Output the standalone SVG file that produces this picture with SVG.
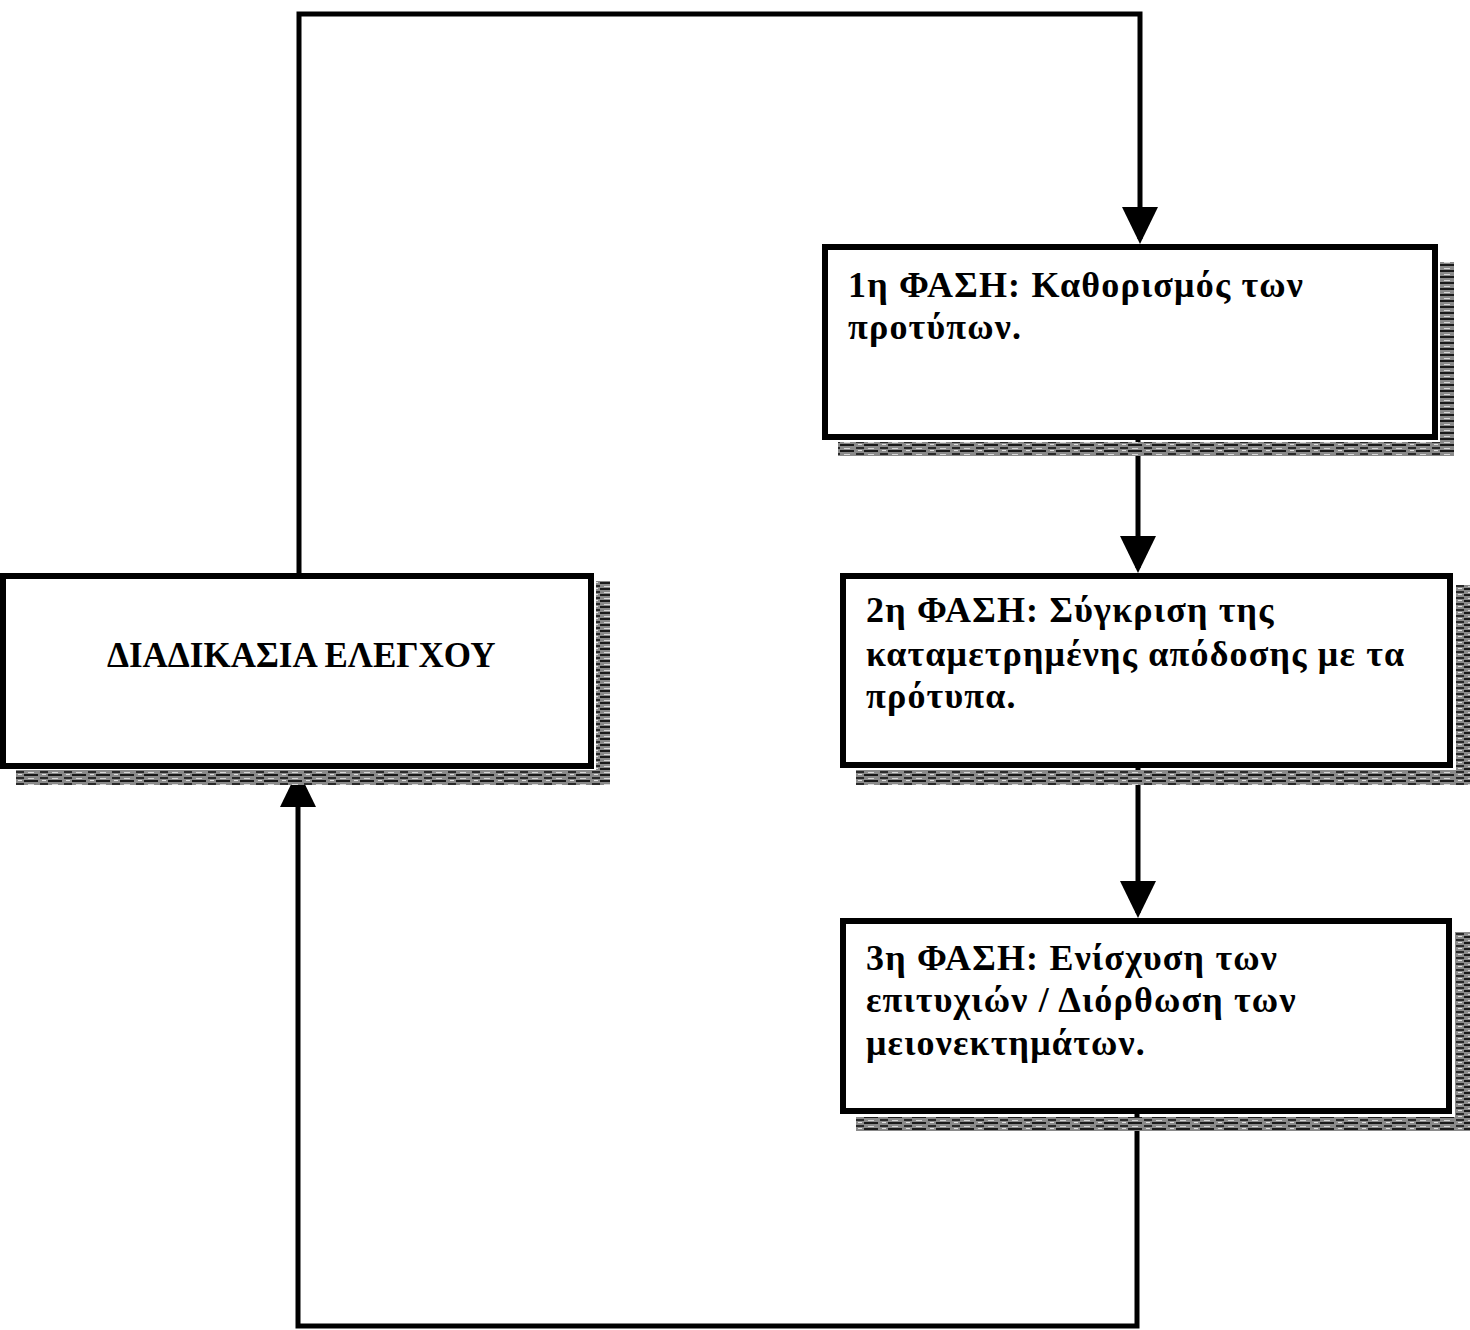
<svg xmlns="http://www.w3.org/2000/svg" width="1470" height="1330" viewBox="0 0 1470 1330">
  <defs>
    <style>
      .box { fill: #ffffff; stroke: #000000; stroke-width: 6; }
      .shadow { fill: url(#grain); }
      .wire { fill: none; stroke: #000000; stroke-width: 5; stroke-linejoin: miter; }
      .label { font-family: "Liberation Serif", "Times New Roman", serif; font-weight: bold; font-size: 36px; letter-spacing: 1.2px; fill: #000000; }
      .title { font-family: "Liberation Serif", "Times New Roman", serif; font-weight: bold; font-size: 35px; fill: #000000; }
    </style>
    <!-- speckled grey hatch used for the drop shadows -->
    <pattern id="grain" width="24" height="6" patternUnits="userSpaceOnUse">
      <rect width="24" height="6" fill="#8a8a8a"/>
      <rect x="0" y="0" width="14" height="2" fill="#1a1a1a"/>
      <rect x="16" y="3" width="8" height="2" fill="#2a2a2a"/>
      <rect x="4" y="4" width="6" height="1" fill="#d8d8d8"/>
      <rect x="18" y="0" width="4" height="1" fill="#e0e0e0"/>
    </pattern>
    <marker id="head" markerUnits="userSpaceOnUse" markerWidth="37" markerHeight="37" viewBox="0 0 37 36" refX="32" refY="18" orient="auto">
      <path d="M0,0 L37,18 L0,36 Z" fill="#000000"/>
    </marker>
  </defs>

  <rect width="1470" height="1330" fill="#ffffff"/>

  <!-- connectors -->
  <g id="connectors">
    <path class="wire" d="M299,574 V14 H1140 V239" marker-end="url(#head)"/>
    <path class="wire" d="M1138,440 V568" marker-end="url(#head)"/>
    <path class="wire" d="M1138,768 V913" marker-end="url(#head)"/>
    <path class="wire" d="M1137,1114 V1326 H298 V775" marker-end="url(#head)"/>
  </g>

  <!-- control process -->
  <g id="control-process">
    <rect class="shadow" x="596" y="581" width="14" height="204"/>
    <rect class="shadow" x="16" y="770" width="594" height="15"/>
    <rect class="box" x="3" y="576" width="588" height="190"/>
    <text class="title" x="107" y="667">ΔΙΑΔΙΚΑΣΙΑ ΕΛΕΓΧΟΥ</text>
  </g>

  <!-- phase 1 -->
  <g id="phase-1">
    <rect class="shadow" x="1440" y="262" width="14" height="194"/>
    <rect class="shadow" x="838" y="442" width="616" height="14"/>
    <rect class="box" x="825" y="247" width="610" height="190"/>
    <text class="label" x="848" y="297">1η ΦΑΣΗ: Καθορισμός των</text>
    <text class="label" x="848" y="339">προτύπων.</text>
  </g>

  <!-- phase 2 -->
  <g id="phase-2">
    <rect class="shadow" x="1456" y="585" width="14" height="200"/>
    <rect class="shadow" x="856" y="770" width="614" height="15"/>
    <rect class="box" x="843" y="576" width="607" height="189"/>
    <text class="label" x="866" y="622">2η ΦΑΣΗ: Σύγκριση της</text>
    <text class="label" x="866" y="666">καταμετρημένης απόδοσης με τα</text>
    <text class="label" x="866" y="708">πρότυπα.</text>
  </g>

  <!-- phase 3 -->
  <g id="phase-3">
    <rect class="shadow" x="1455" y="932" width="15" height="199"/>
    <rect class="shadow" x="856" y="1117" width="614" height="14"/>
    <rect class="box" x="843" y="921" width="606" height="190"/>
    <text class="label" x="866" y="970">3η ΦΑΣΗ: Ενίσχυση των</text>
    <text class="label" x="866" y="1012">επιτυχιών / Διόρθωση των</text>
    <text class="label" x="866" y="1055">μειονεκτημάτων.</text>
  </g>
</svg>
